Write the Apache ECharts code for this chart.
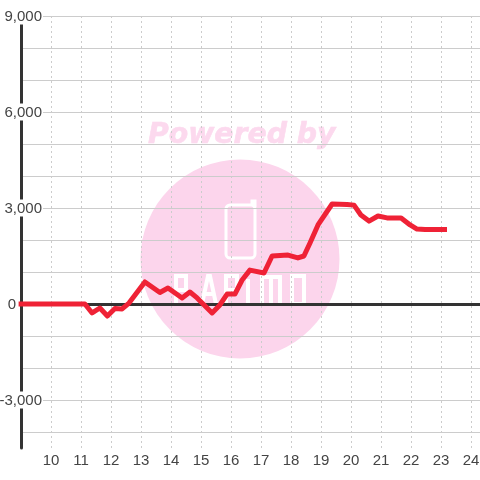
<!DOCTYPE html>
<html><head><meta charset="utf-8">
<script src="https://cdn.jsdelivr.net/npm/echarts@6/dist/echarts.min.js"></script>
<style>html,body{margin:0;padding:0;background:#fff}#c{width:480px;height:480px}</style></head>
<body><div id="c"></div>
<script>
const hours=[8.92,11.13,11.37,11.63,11.88,12.13,12.37,12.6,13.13,13.63,13.9,14.37,14.63,14.87,15.37,15.63,15.87,16.13,16.37,16.63,17.1,17.37,17.9,18.23,18.43,18.63,18.9,19.37,19.87,20.1,20.33,20.6,20.9,21.2,21.67,21.97,22.2,22.47,23.2];
const values=[0,0,-280,-125,-375,-140,-155,30,690,360,500,190,375,190,-280,-30,310,310,750,1060,970,1500,1530,1440,1500,1900,2470,3125,3110,3090,2780,2590,2750,2690,2690,2470,2340,2330,2330];
const xTickLabels=[10,11,12,13,14,15,16,17,18,19,20,21,22,23,24];
const yTickLabels=[-3000,0,3000,6000,9000];
const yGridValues=[-4000,-3000,-2000,-1000,0,1000,2000,3000,4000,5000,6000,7000,8000,9000];
const xRange=[9,24.3];
const yRange=[-4500,9000];
const watermarkText='Powered by';

const pink='#fcd5ec';
const logo=[
 [[176,304],[176,276],[186,276],[186,290],[176,290]],
 [[202,304],[208,276],[210,276],[216,304]],
 [[204,294],[214,294]],
 [[226,304],[226,276],[237,276],[237,290],[226,290]],
 [[248,304],[248,279]],
 [[262,304],[262,277],[280,277],[280,304]],
 [[271,277],[271,304]],
 [[292,304],[292,276],[304,276],[304,304],[292,304]]
];
const graphics=[
 {type:'circle',z:-10,silent:true,shape:{cx:240,cy:259,r:99.5},style:{fill:pink}},
 {type:'text',z:-10,silent:true,x:148,y:122,style:{text:watermarkText,fill:'#fcd9ee',stroke:'#fcd9ee',lineWidth:0.6,font:'italic bold 28.3px "DejaVu Sans"'}},
 {type:'rect',z:-9,silent:true,shape:{x:226,y:205,width:29,height:53,r:4},style:{fill:'none',stroke:'#fff',lineWidth:3}},
 {type:'polyline',z:-9,silent:true,shape:{points:[[252,206],[252,201],[255,201],[255,207]]},style:{fill:'none',stroke:'#fff',lineWidth:3}}
].concat(logo.map(p=>({type:'polyline',z:-9,silent:true,shape:{points:p},style:{fill:'none',stroke:'#fff',lineWidth:4}})));

const chart=echarts.init(document.getElementById('c'),null,{renderer:'canvas'});
chart.setOption({
 animation:false,
 backgroundColor:'#fff',
 graphic:graphics,
 grid:{left:21,right:0,top:16,height:432,containLabel:false,outerBoundsMode:'none'},
 xAxis:{type:'value',min:xRange[0],max:xRange[1],interval:1,
  axisLine:{show:false},axisTick:{show:false},
  axisLabel:{customValues:xTickLabels,color:'#444',fontFamily:'Liberation Sans',fontSize:15,margin:5,showMinLabel:true,showMaxLabel:true},
  splitLine:{show:true,lineStyle:{color:'#ccc',type:[2,3],width:1}}},
 yAxis:{type:'value',min:yRange[0],max:yRange[1],
  axisLine:{show:true,onZero:false,lineStyle:{color:'#333',width:3}},
  axisTick:{show:false,customValues:yGridValues},
  axisLabel:{inside:true,margin:22,align:'right',customValues:yTickLabels,
   formatter:v=>v===0?'{z|0}':'{a|'+v.toLocaleString('en-US')+'}',
   rich:{
    a:{color:'#444',fontFamily:'Liberation Sans',fontSize:15,backgroundColor:'#fff',padding:[2,1,0,1]},
    z:{color:'#444',fontFamily:'Liberation Sans',fontSize:15,padding:[2,27,0,0]}
   }},
  splitLine:{show:true,lineStyle:{color:'#ccc',width:1}}},
 series:[
  {name:'zero',type:'line',z:2,symbol:'none',silent:true,data:[],
   markLine:{silent:true,symbol:'none',label:{show:false},z:2,lineStyle:{color:'#333',width:3,type:'solid'},data:[{yAxis:0}]}},
  {name:'value',type:'line',z:5,clip:false,symbol:'none',lineStyle:{color:'#ef2236',width:5,join:'round'},
   data:hours.map((h,i)=>[h,values[i]])}
 ]
});
</script></body></html>
